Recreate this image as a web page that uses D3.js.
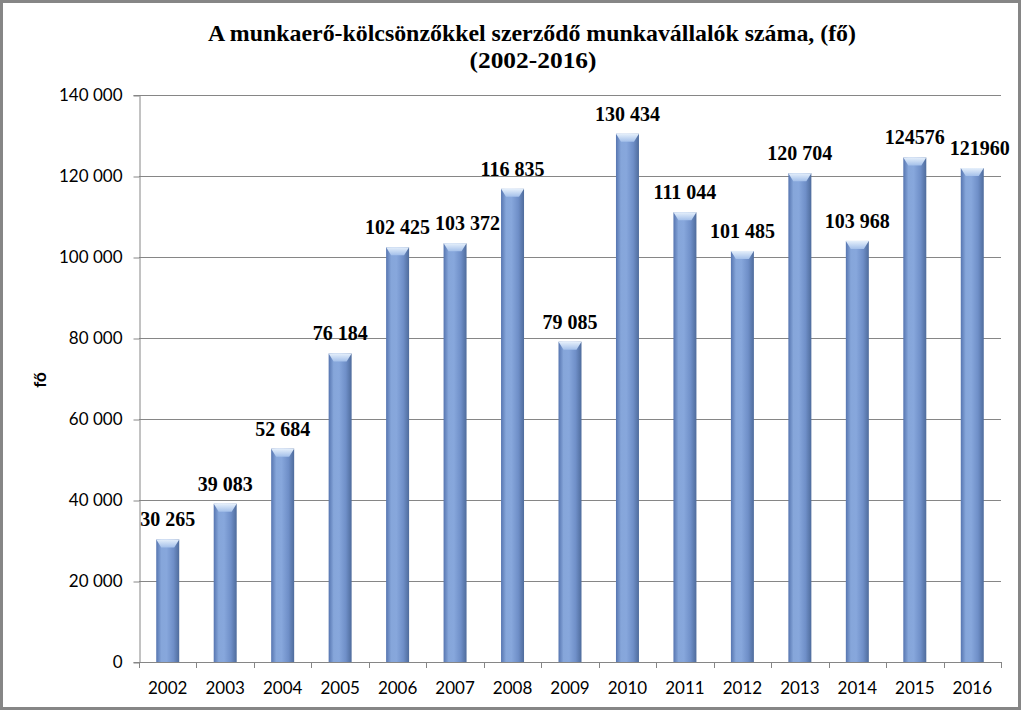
<!DOCTYPE html>
<html><head><meta charset="utf-8">
<script src="https://cdn.jsdelivr.net/npm/d3@7"></script>
<style>body{margin:0;background:#fff}</style>
</head><body>
<svg id="c" width="1024" height="713"></svg>
<script>
const years = ["2002","2003","2004","2005","2006","2007","2008","2009","2010","2011","2012","2013","2014","2015","2016"];
const values = [30265,39083,52684,76184,102425,103372,116835,79085,130434,111044,101485,120704,103968,124576,121960];
const labels = ["30 265","39 083","52 684","76 184","102 425","103 372","116 835","79 085","130 434","111 044","101 485","120 704","103 968","124576","121960"];
const yTicks = [0,20000,40000,60000,80000,100000,120000,140000];
const titleLines = ["A munkaerő-kölcsönzőkkel szerződő munkavállalók száma, (fő)","(2002-2016)"];
const yAxisTitle = "fő";

const svg = d3.select("#c");
const m = {left:139, right:1001, top:95, bottom:662};
const grey = "#868686";
const serif = "'Liberation Serif', 'Times New Roman', serif";
const sans = "Lato, 'Open Sans', sans-serif";

svg.append("rect").attr("x",1.5).attr("y",1.5).attr("width",1018).attr("height",707)
  .attr("fill","#fff").attr("stroke",grey).attr("stroke-width",3);

const defs = svg.append("defs");
const g1 = defs.append("linearGradient").attr("id","bar").attr("x1","0").attr("x2","1").attr("y1","0").attr("y2","0");
[["0%","#5675b0"],["22%","#86a6da"],["45%","#87a7dc"],["75%","#6f8fc8"],["100%","#4f6c9c"]]
  .forEach(([o,c])=>g1.append("stop").attr("offset",o).attr("stop-color",c));
const g2 = defs.append("linearGradient").attr("id","cap").attr("x1","0").attr("x2","0").attr("y1","0").attr("y2","1");
[["0%","#e6f0fb"],["100%","#a4c0ea"]].forEach(([o,c])=>g2.append("stop").attr("offset",o).attr("stop-color",c));

const x = d3.scaleBand().domain(years).range([m.left,m.right]).paddingInner(0.6).paddingOuter(0.3);
const y = d3.scaleLinear().domain([0,140000]).range([m.bottom,m.top]);
const fmt = v => d3.format(",")(v).replace(/,/g," ");

// gridlines
svg.append("g").selectAll("line").data(yTicks.filter(t=>t>0)).join("line")
  .attr("x1",m.left).attr("x2",m.right).attr("y1",d=>y(d)+0.5).attr("y2",d=>y(d)+0.5)
  .attr("stroke",grey).attr("stroke-width",1);

// y axis
const ya = svg.append("g").attr("transform",`translate(${m.left+0.5},0)`)
  .call(d3.axisLeft(y).tickValues(yTicks).tickFormat(fmt).tickSize(6).tickPadding(11));
ya.select(".domain").attr("stroke",grey);
ya.selectAll(".tick line").attr("stroke",grey).attr("transform","translate(0,0.5)");
ya.selectAll("text").attr("font-family",sans).attr("font-size",17).attr("fill","#000").attr("dy","0.35em");

// x axis
const xa = svg.append("g").attr("transform",`translate(0,${m.bottom+0.5})`)
  .call(d3.axisBottom(x).tickSize(0).tickPadding(19));
xa.select(".domain").attr("stroke",grey).attr("d",`M${m.left},0H${m.right}`);
xa.selectAll("text").attr("font-family",sans).attr("font-size",17).attr("fill","#000");
svg.append("g").selectAll("line").data(d3.range(years.length+1)).join("line")
  .attr("x1",i=>Math.round(m.left+i*x.step())+0.5)
  .attr("x2",i=>Math.round(m.left+i*x.step())+0.5)
  .attr("y1",m.bottom).attr("y2",m.bottom+6).attr("stroke",grey);

// bars
const bw = x.bandwidth();
const bars = svg.append("g").selectAll("g").data(years).join("g");
bars.append("rect").attr("x",d=>x(d)).attr("y",(d,i)=>y(values[i]))
  .attr("width",bw).attr("height",(d,i)=>y(0)-y(values[i])).attr("fill","url(#bar)");
bars.append("path").attr("d",(d,i)=>{
  const x0=x(d), t=y(values[i]);
  return `M${x0},${t}H${x0+bw}L${x0+bw-5},${t+8}H${x0+5}Z`;
}).attr("fill","url(#cap)");

// value labels with simple overlap avoidance
const lbl = svg.append("g").selectAll("text").data(years).join("text")
  .attr("x",d=>x(d)+bw/2).attr("y",(d,i)=>y(values[i])-13)
  .attr("text-anchor","middle").attr("font-family",serif)
  .attr("font-weight","bold").attr("font-size",20).text((d,i)=>labels[i]);
const nodes = lbl.nodes();
for (let i=1;i<nodes.length;i++){
  const a = nodes[i-1].getBBox(), b = nodes[i].getBBox();
  const vOver = !(a.y+a.height < b.y || b.y+b.height < a.y);
  const gap = a.x + a.width + 5 - b.x;
  if (vOver && gap>0){
    const cx = +nodes[i].getAttribute("x");
    nodes[i].setAttribute("x", cx + gap);
  }
}

// title
svg.append("text").attr("x",532).attr("y",41).attr("text-anchor","middle")
  .attr("font-family",serif).attr("font-weight","bold").attr("font-size",24)
  .attr("textLength",648).attr("lengthAdjust","spacingAndGlyphs").text(titleLines[0]);
svg.append("text").attr("x",533).attr("y",68).attr("text-anchor","middle")
  .attr("font-family",serif).attr("font-weight","bold").attr("font-size",24)
  .attr("textLength",127).attr("lengthAdjust","spacingAndGlyphs").text(titleLines[1]);

// y axis title
svg.append("text").attr("transform","translate(46,380) rotate(-90)").attr("text-anchor","middle")
  .attr("font-family",sans).attr("font-weight","bold").attr("font-size",17)
  .text(yAxisTitle);
</script>
</body></html>
